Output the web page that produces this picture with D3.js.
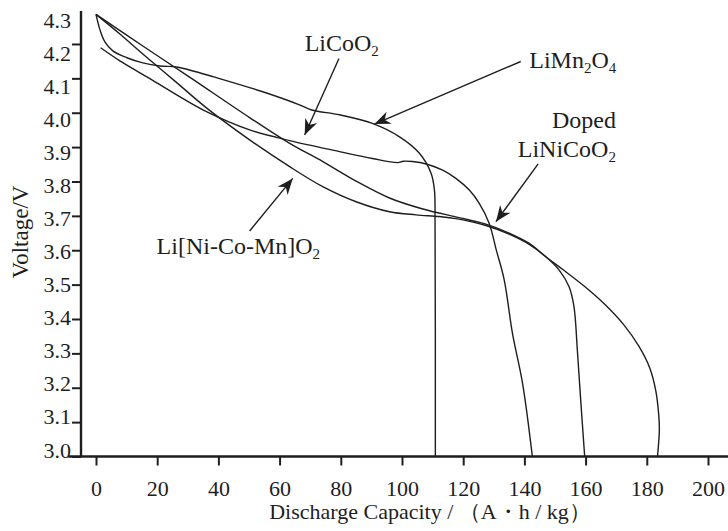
<!DOCTYPE html>
<html><head><meta charset="utf-8">
<script src="https://cdn.jsdelivr.net/npm/d3@7"></script>
<style>
body{margin:0;background:#fff}
svg{display:block}
text{font-family:"Liberation Serif","Times New Roman",serif;fill:#1e1e1e}
</style>
</head><body><svg id="c" width="728" height="531"></svg>
<script>
// ---- data ----
const xTickValues=[0,20,40,60,80,100,120,140,160,180,200];
const xMinorValues=[10,30,50,70,90,110,130,150,170,190];
const yTickValues=[3.0,3.1,3.2,3.3,3.4,3.5,3.6,3.7,3.8,3.9,4.0,4.1,4.2,4.3];
const yMinorValues=[3.05,3.15,3.25,3.35,3.45,3.55,3.65,3.75,3.85,3.95,4.05,4.15,4.25];

const liMn2O4Cap =[0,1.3,2.9,5.5,10.1,15.3,20.9,26.4,32.3,38.2,54.5,66.5,70.5,79.6,90.3,99.2,105.7,109.5,110.6,110.8,110.9];
const liMn2O4Volt=[4.286,4.241,4.206,4.180,4.160,4.145,4.136,4.133,4.120,4.105,4.061,4.023,4.008,3.994,3.969,3.930,3.882,3.824,3.775,3.679,3.0];

const liCoO2Cap =[1.5,7.8,16.5,25.8,36.1,50.2,63.3,79.6,90.3,98.5,100.5,103.4,107.9,113.3,117.6,122.0,125.2,128.5,130.8,133.4,136.1,139.4,142.6];
const liCoO2Volt=[4.189,4.151,4.105,4.055,4.003,3.950,3.919,3.887,3.867,3.855,3.859,3.858,3.851,3.833,3.809,3.775,3.737,3.678,3.601,3.514,3.358,3.213,3.0];

const dopedCap =[0,15.3,30.7,50.2,63.3,74.1,85.0,95.9,106.8,117.6,127.4,135.0,141.6,147.0,153.0,159.5,166.0,172.5,177.4,181.0,182.9,183.9,184.1,183.5];
const dopedVolt=[4.286,4.194,4.103,3.986,3.911,3.858,3.801,3.752,3.720,3.697,3.676,3.650,3.620,3.581,3.541,3.496,3.445,3.383,3.321,3.257,3.193,3.121,3.077,3.0];

const ncmCap =[0,7.8,15.3,25.8,36.1,50.2,63.3,74.1,85.0,95.9,104.6,112.2,117.6,127.4,135.0,141.6,147.0,151.3,154.6,156.2,157.3,158.4,159.7];
const ncmVolt=[4.286,4.229,4.171,4.092,4.014,3.921,3.843,3.785,3.741,3.712,3.703,3.698,3.692,3.672,3.647,3.617,3.581,3.543,3.494,3.436,3.310,3.164,3.0];

const xTitle="Discharge Capacity / （A・h / kg）";
const yTitle="Voltage/V";

// annotation labels: [text, subscript] parts
const labelLiCoO2=[["LiCoO",0],["2",1]];
const labelLiMn2O4=[["LiMn",0],["2",1],["O",0],["4",1]];
const labelDoped1=[["Doped",0]];
const labelDoped2=[["LiNiCoO",0],["2",1]];
const labelNCM=[["Li[Ni-Co-Mn]O",0],["2",1]];

// arrows: [fromCap, fromVolt, tipCap, tipVolt]
const arrowLiCoO2=[79.4,4.158,68.2,3.935];
const arrowLiMn2O4=[138.8,4.149,91.0,3.967];
const arrowDoped=[144.5,3.851,130.7,3.683];
const arrowNCM=[50.2,3.656,64.3,3.809];

// ---- drawing ----
const svg=d3.select("#c");
const x=d3.scaleLinear().domain([0,200]).range([96,708]);
const y=d3.scaleLinear().domain([3.0,4.3]).range([456.5,9.6]);
const yLabel=d3.scaleLinear().domain([3.0,4.3]).range([450,20]);
const ink="#1e1e1e";

// x axis
const gx=svg.append("g").attr("transform",`translate(0,${y(3.0)})`);
gx.call(d3.axisBottom(x).tickValues(xMinorValues).tickSize(4.5).tickFormat(""));
gx.call(d3.axisBottom(x).tickValues(xTickValues).tickSize(9).tickPadding(15).tickSizeOuter(0).tickFormat(d3.format("d")));
gx.selectAll(".domain").remove();
gx.append("path").attr("d",`M${x(-9.1)},0H728`).attr("stroke",ink).attr("stroke-width",2.4);
gx.selectAll(".tick line").attr("stroke",ink).attr("stroke-width",2);
gx.selectAll(".tick text").attr("font-size",22).attr("fill",ink).attr("font-family","Liberation Serif");

// y axis
const gy=svg.append("g").attr("transform",`translate(${x(-4.9)},0)`);
gy.call(d3.axisLeft(y).tickValues(yMinorValues).tickSize(5).tickFormat(""));
gy.call(d3.axisLeft(y).tickValues(yTickValues).tickSize(9).tickPadding(1).tickSizeOuter(0).tickFormat(d3.format(".1f")));
gy.selectAll(".domain").remove();
gy.append("path").attr("d",`M0,${y(4.3)+1.4}V${y(3.0)}`).attr("stroke",ink).attr("stroke-width",2.4);
gy.selectAll(".tick line").attr("stroke",ink).attr("stroke-width",2);
gy.selectAll(".tick").filter(d=>d===4.3).select("line").remove();
gy.selectAll(".tick text").attr("font-size",22).attr("fill",ink).attr("font-family","Liberation Serif")
  .attr("y",d=>yLabel(d)-y(d));

// titles
svg.append("text").attr("x",430).attr("y",519).attr("text-anchor","middle").attr("font-size",22).text(xTitle);
svg.append("text").attr("transform","translate(27.5,232) rotate(-90)").attr("text-anchor","middle").attr("font-size",23).text(yTitle);

// curves
const line=d3.line().x(d=>x(d[0])).y(d=>y(d[1])).curve(d3.curveCatmullRom.alpha(0.5));
const series=[[liMn2O4Cap,liMn2O4Volt],[liCoO2Cap,liCoO2Volt],[dopedCap,dopedVolt],[ncmCap,ncmVolt]];
series.forEach(([c,v])=>{
  svg.append("path").datum(c.map((d,i)=>[d,v[i]])).attr("d",line)
    .attr("fill","none").attr("stroke",ink).attr("stroke-width",1.4);
});

// arrows
const defs=svg.append("defs");
defs.append("marker").attr("id","ah").attr("markerUnits","userSpaceOnUse")
  .attr("viewBox","-16 -8 18 16").attr("refX",0).attr("refY",0)
  .attr("markerWidth",18).attr("markerHeight",16).attr("orient","auto")
  .append("path").attr("d","M0,0 L-16,-6.5 L-11,0 L-16,6.5 Z").attr("fill",ink);
[arrowLiCoO2,arrowLiMn2O4,arrowDoped,arrowNCM].forEach(a=>{
  svg.append("line").attr("x1",x(a[0])).attr("y1",y(a[1])).attr("x2",x(a[2])).attr("y2",y(a[3]))
    .attr("stroke",ink).attr("stroke-width",1.4).attr("marker-end","url(#ah)");
});

// labels
function rich(parts,cap,volt,anchor){
  const t=svg.append("text").attr("x",x(cap)).attr("y",y(volt)).attr("font-size",24).attr("text-anchor",anchor);
  let low=false;
  parts.forEach(([s,sub])=>{
    const ts=t.append("tspan").text(s);
    if(sub&&!low){ts.attr("dy",5).attr("font-size",15);low=true;}
    else if(sub){ts.attr("font-size",15);}
    else if(!sub&&low){ts.attr("dy",-5);low=false;}
  });
}
rich(labelLiCoO2,68.2,4.180,"start");
rich(labelLiMn2O4,141.6,4.129,"start");
rich(labelDoped1,169.9,3.955,"end");
rich(labelDoped2,169.9,3.870,"end");
rich(labelNCM,19.8,3.589,"start");
</script></body></html>
